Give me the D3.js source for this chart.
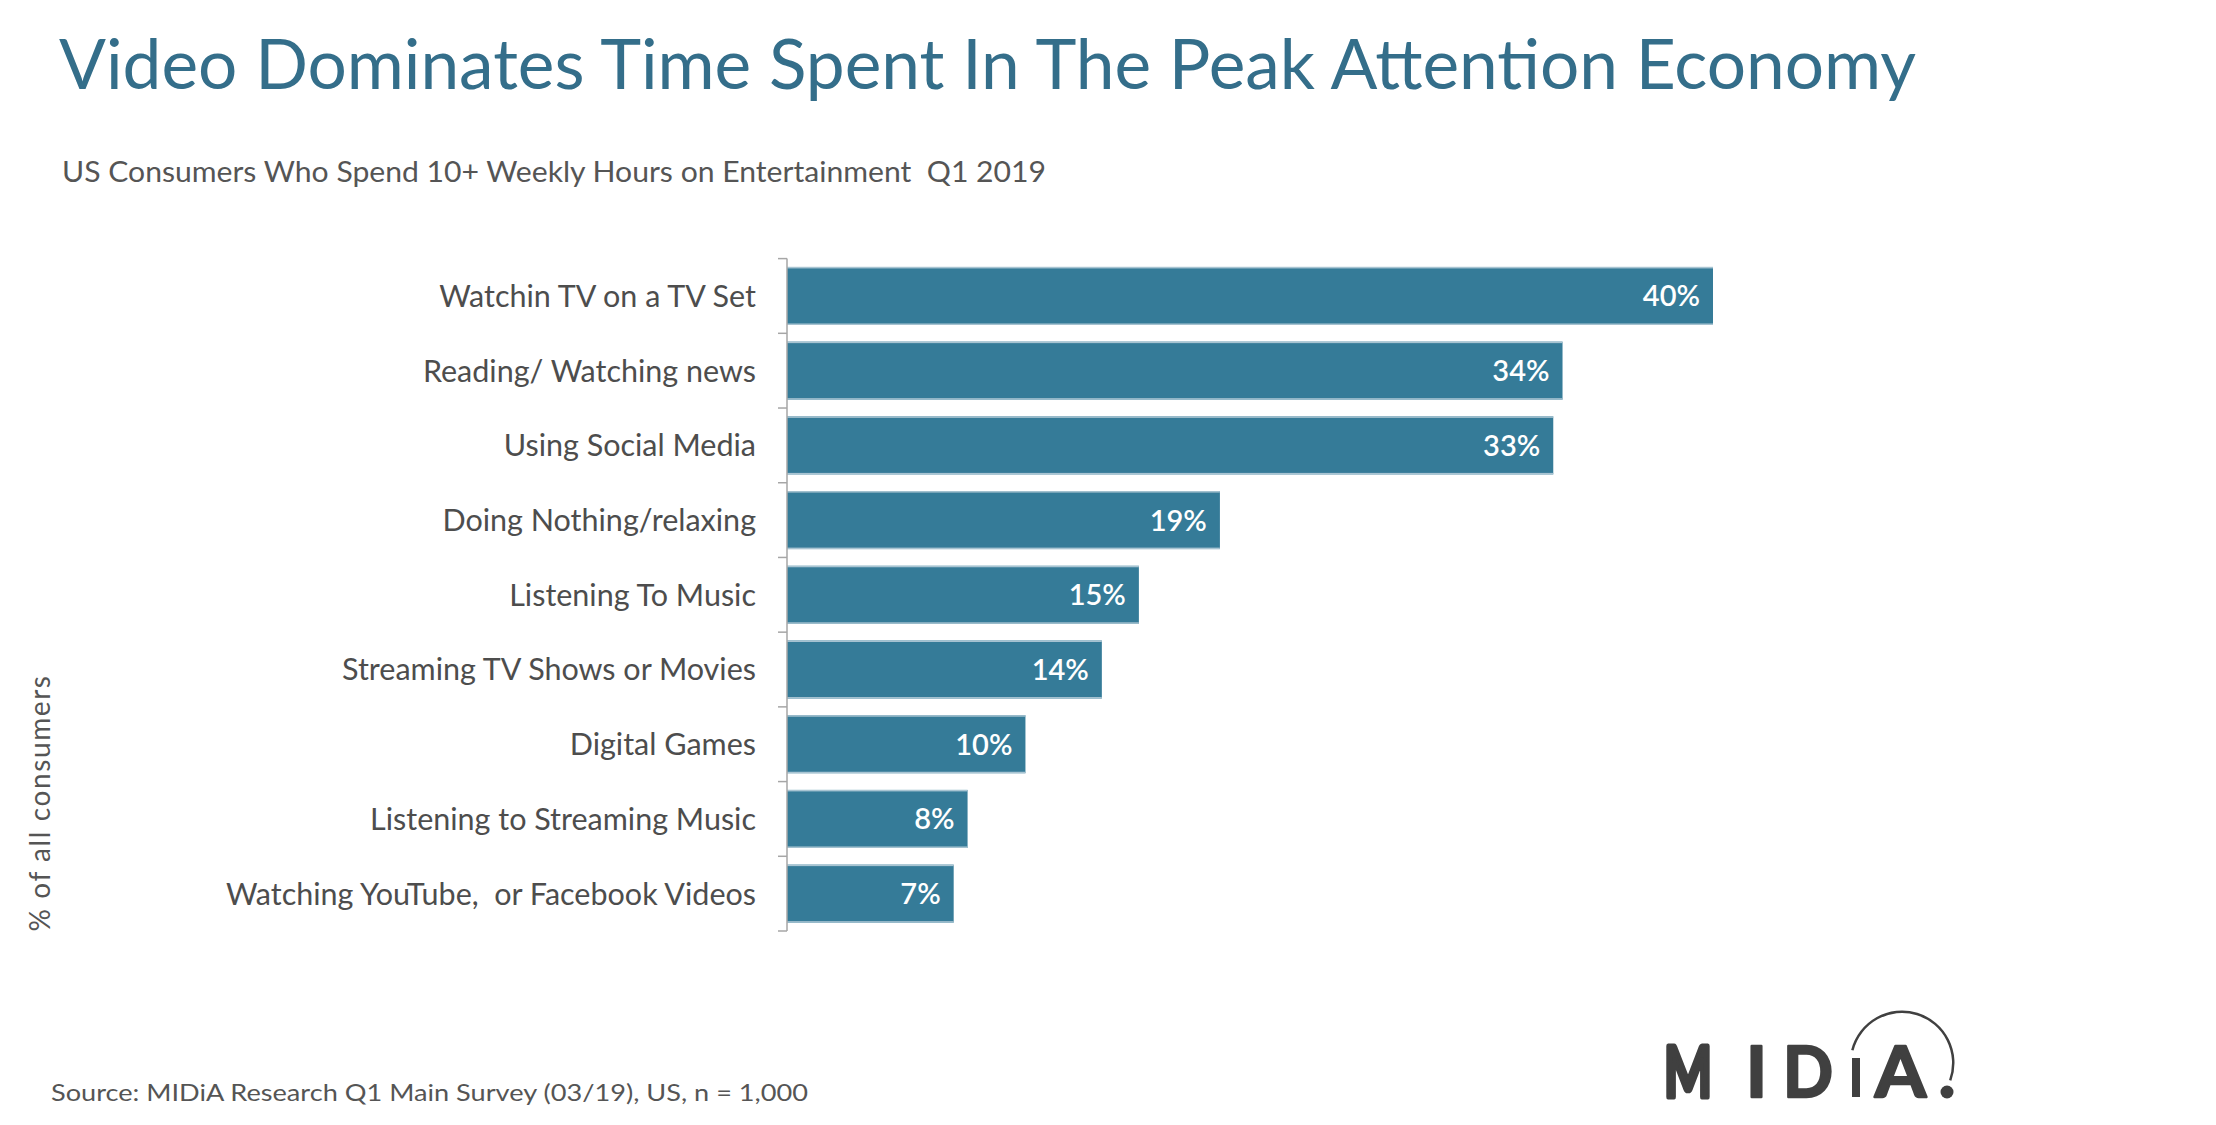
<!DOCTYPE html>
<html>
<head>
<meta charset="utf-8">
<script src="https://cdn.jsdelivr.net/npm/d3@7"></script>
<style>
  html, body { margin: 0; padding: 0; background: #fff; }
  svg { display: block; }
  text { font-family: Lato, "Open Sans", sans-serif; white-space: pre; }
</style>
</head>
<body>
<svg id="chart" width="2216" height="1125"></svg>
<script>
// ---- data ----
const categories = [
  "Watchin TV on a TV Set",
  "Reading/ Watching news",
  "Using Social Media",
  "Doing Nothing/relaxing",
  "Listening To Music",
  "Streaming TV Shows or Movies",
  "Digital Games",
  "Listening to Streaming Music",
  "Watching YouTube,  or Facebook Videos"
];
const values = [40.0, 33.5, 33.1, 18.7, 15.2, 13.6, 10.3, 7.8, 7.2];
const valueLabels = ["40%", "34%", "33%", "19%", "15%", "14%", "10%", "8%", "7%"];
const titleText = "Video Dominates Time Spent In The Peak Attention Economy";
const subtitleText = "US Consumers Who Spend 10+ Weekly Hours on Entertainment  Q1 2019";
const yAxisTitle = "% of all consumers";
const sourceText = "Source: MIDiA Research Q1 Main Survey (03/19), US, n = 1,000";

(function () {
// ---- layout ----
const svg = d3.select("#chart");
const plotLeft = 787, plotTop = 258.6, plotBottom = 931;
const x = d3.scaleLinear().domain([0, 40]).range([plotLeft, 1713]);
const y = d3.scaleBand().domain(categories).range([plotTop, plotBottom]).paddingInner(0.223).paddingOuter(0.1115);

const barColor = "#357b98";

// title
svg.append("text").attr("x", 59).attr("y", 89)
  .attr("font-size", 70).attr("fill", "#346e8a")
  .attr("textLength", 1857).attr("lengthAdjust", "spacingAndGlyphs")
  .text(titleText);

svg.append("text").attr("x", 62).attr("y", 182)
  .attr("font-size", 29).attr("fill", "#555555")
  .attr("textLength", 984).attr("lengthAdjust", "spacingAndGlyphs")
  .text(subtitleText);

// bars
const g = svg.append("g");
g.selectAll("rect.bar").data(categories).join("rect")
  .attr("class", "bar")
  .attr("x", x(0))
  .attr("y", d => y(d))
  .attr("width", (d, i) => x(values[i]) - x(0))
  .attr("height", y.bandwidth())
  .attr("fill", barColor);
// light edge lines
g.selectAll("rect.edgeT").data(categories).join("rect")
  .attr("class", "edgeT")
  .attr("x", x(0)).attr("y", d => y(d))
  .attr("width", (d, i) => x(values[i]) - x(0)).attr("height", 1.5)
  .attr("fill", "#a8c4d2");
g.selectAll("rect.edgeB").data(categories).join("rect")
  .attr("class", "edgeB")
  .attr("x", x(0)).attr("y", d => y(d) + y.bandwidth() - 1.5)
  .attr("width", (d, i) => x(values[i]) - x(0)).attr("height", 1.5)
  .attr("fill", "#a8c4d2");

// value labels
g.selectAll("text.val").data(categories).join("text")
  .attr("class", "val")
  .attr("x", (d, i) => x(values[i]) - 13)
  .attr("y", d => y(d) + y.bandwidth() / 2)
  .attr("dy", "0.36em")
  .attr("text-anchor", "end")
  .attr("font-size", 29).attr("font-weight", 600)
  .attr("fill", "#ffffff")
  .text((d, i) => valueLabels[i]);

// axis line with ticks between categories
const axisG = svg.append("g");
axisG.append("line").attr("x1", plotLeft).attr("x2", plotLeft).attr("y1", plotTop).attr("y2", plotBottom)
  .attr("stroke", "#a6a6a6").attr("stroke-width", 1.5);
const tickYs = categories.map(c => y(c) - y.step() * y.paddingInner() / 2).concat([plotBottom]);
axisG.selectAll("line.tick").data(tickYs).join("line")
  .attr("class", "tick")
  .attr("x1", plotLeft - 9).attr("x2", plotLeft).attr("y1", d => d).attr("y2", d => d)
  .attr("stroke", "#a6a6a6").attr("stroke-width", 1.5);

// category labels
svg.append("g").selectAll("text").data(categories).join("text")
  .attr("x", 756)
  .attr("y", d => y(d) + y.bandwidth() / 2)
  .attr("dy", "0.36em")
  .attr("text-anchor", "end")
  .attr("font-size", 30.5).attr("fill", "#4d4d4d")
  .text(d => d);

// y-axis title
svg.append("text")
  .attr("transform", "translate(50,803) rotate(-90)")
  .attr("text-anchor", "middle")
  .attr("font-size", 28).attr("fill", "#555555")
  .attr("letter-spacing", 1.6)
  .text(yAxisTitle);

// source
svg.append("text").attr("x", 51).attr("y", 1101)
  .attr("font-size", 24).attr("fill", "#555555")
  .attr("textLength", 757).attr("lengthAdjust", "spacingAndGlyphs")
  .text(sourceText);

// logo
const logo = svg.append("g").attr("fill", "#404040");
const logoText = (ch, cx, w, sw) => {
  const t = logo.append("text").attr("x", cx).attr("y", 1097)
    .attr("font-size", 71).attr("font-weight", 700)
    .attr("font-family", "Lato, Inter, sans-serif")
    .attr("stroke", "#404040").attr("stroke-width", sw)
    .attr("stroke-linejoin", "round")
    .text(ch);
  if (w) t.attr("textLength", w).attr("lengthAdjust", "spacingAndGlyphs");
  return t;
};
logoText("M", 1664, 48, 5);
logoText("I", 1746, null, 2.5);
logoText("D", 1783, 50, 2.5);
logo.append("rect").attr("x", 1852).attr("y", 1058).attr("width", 8).attr("height", 39);
logoText("A", 1875, 51, 2.5);
logo.append("circle").attr("cx", 1947).attr("cy", 1092).attr("r", 6.5);
const arc = d3.arc().innerRadius(50).outerRadius(52.5)
  .startAngle(-Math.PI * 0.42).endAngle(Math.PI * 0.61);
logo.append("path").attr("d", arc()).attr("transform", "translate(1902,1063)");
})();
</script>
</body>
</html>
